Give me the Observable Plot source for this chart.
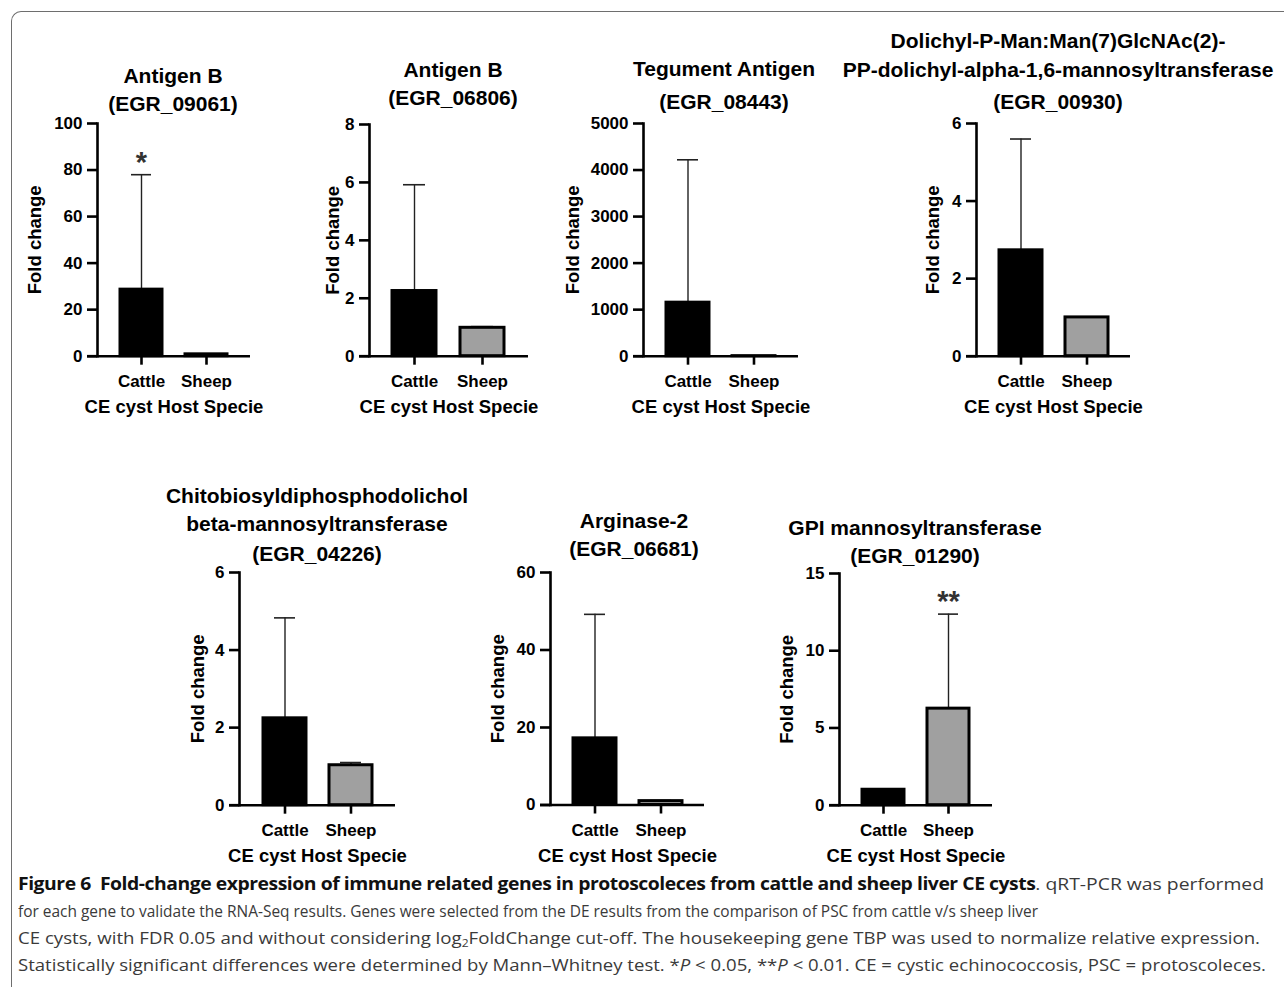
<!DOCTYPE html>
<html>
<head>
<meta charset="utf-8">
<script src="https://cdn.jsdelivr.net/npm/d3@7"></script>
<script src="https://cdn.jsdelivr.net/npm/@observablehq/plot@0.6"></script>
<style>
  html, body { margin: 0; padding: 0; background: #fff; }
  #wrap { position: relative; width: 1284px; height: 987px; overflow: hidden; background: #fff; }
  .border { position: absolute; left: 11px; top: 11px; width: 1400px; height: 1100px;
    border-left: 1.5px solid #6e6e6e; border-top: 1.5px solid #6e6e6e; border-top-left-radius: 10px; }
  .title { position: absolute; transform: translate(-50%, -50%); white-space: nowrap;
    font: bold 21px "Liberation Sans", Arial, Helvetica, sans-serif; color: #000; line-height: 1; }
  .cap { position: absolute; left: 18px; white-space: nowrap; transform-origin: 0 50%;
    font-family: "Open Sans", "Noto Sans", sans-serif;
    font-size: 17px; line-height: 27px; color: #3a3a3a; }
  .cap b { color: #111; font-weight: 700; letter-spacing: -0.4px; }
  .cap sub { font-size: 11px; line-height: 0; vertical-align: -3px; }
</style>
</head>
<body>
<div id="wrap"><div class="border"></div></div>
<script>
// ---------------- data ----------------
const hosts = ["Cattle", "Sheep"];
const titles = [
  ["Antigen B", "(EGR_09061)"],
  ["Antigen B", "(EGR_06806)"],
  ["Tegument Antigen", "(EGR_08443)"],
  ["Dolichyl-P-Man:Man(7)GlcNAc(2)-", "PP-dolichyl-alpha-1,6-mannosyltransferase", "(EGR_00930)"],
  ["Chitobiosyldiphosphodolichol", "beta-mannosyltransferase", "(EGR_04226)"],
  ["Arginase-2", "(EGR_06681)"],
  ["GPI mannosyltransferase", "(EGR_01290)"]
];
const cattleMean  = [28.6, 2.25, 1150, 2.73, 2.24, 17.2, 1.0];
const cattleUpper = [78.0, 5.92, 4220, 5.60, 4.83, 49.2, 1.0];
const sheepMean   = [0.8, 0.98, 1.0, 1.0, 1.03, 1.0, 6.25];
const sheepUpper  = [0.8, 1.02, 1.0, 1.0, 1.10, 1.15, 12.37];
const cattleSig   = ["*", "", "", "", "", "", ""];
const sheepSig    = ["", "", "", "", "", "", "**"];
const yMax   = [100, 8, 5000, 6, 6, 60, 15];
const yTicks = [
  [0, 20, 40, 60, 80, 100],
  [0, 2, 4, 6, 8],
  [0, 1000, 2000, 3000, 4000, 5000],
  [0, 2, 4, 6],
  [0, 2, 4, 6],
  [0, 20, 40, 60],
  [0, 5, 10, 15]
];
const yLabel = "Fold change";
const xLabel = "CE cyst Host Specie";

// ---------------- layout (pixels) ----------------
const layout = [
  {ax: 97,  xend: 250,  ytop: 123.3, y0: 356,   labelDx: -62, tx: 173,  ty: [75, 103]},
  {ax: 369, xend: 528,  ytop: 124.3, y0: 356,   labelDx: -36, tx: 453,  ty: [69, 97]},
  {ax: 643, xend: 798,  ytop: 123.3, y0: 356,   labelDx: -70, tx: 724,  ty: [68, 101]},
  {ax: 976, xend: 1130, ytop: 123.3, y0: 356,   labelDx: -43, tx: 1058, ty: [40, 69, 101]},
  {ax: 239, xend: 395,  ytop: 572.3, y0: 805,   labelDx: -41, tx: 317,  ty: [495, 523, 553]},
  {ax: 550, xend: 704,  ytop: 572,   y0: 804.5, labelDx: -52, tx: 634,  ty: [520, 548]},
  {ax: 839, xend: 992,  ytop: 573.3, y0: 805,   labelDx: -52, tx: 915,  ty: [527, 555]}
];

const wrap = document.getElementById("wrap");
const FONT = '"Liberation Sans", Arial, Helvetica, sans-serif';
const mL = 80, mR = 12, mT = 14, mB = 66;
const AXW = 2.6;

layout.forEach((L, i) => {
  const data = hosts.map((h, j) => ({
    host: h,
    mean: j === 0 ? cattleMean[i] : sheepMean[i],
    upper: j === 0 ? cattleUpper[i] : sheepUpper[i],
    sig: j === 0 ? cattleSig[i] : sheepSig[i]
  }));
  const err = data.filter(d => d.upper > d.mean);
  const svg = Plot.plot({
    width: mL + (L.xend - L.ax) + mR,
    height: mT + (L.y0 - L.ytop) + mB,
    marginLeft: mL, marginRight: mR, marginTop: mT, marginBottom: mB,
    style: {fontFamily: FONT, background: "transparent", overflow: "visible", color: "#000"},
    x: {domain: hosts, paddingInner: 0.35, paddingOuter: 0.34, align: 0.5, axis: null},
    y: {domain: [0, yMax[i]], axis: null},
    marks: [
      Plot.ruleX(err, {x: "host", y1: "mean", y2: "upper", stroke: "#222", strokeWidth: 1.4}),
      Plot.tickY(err, {x: "host", y: "upper", insetLeft: 11, insetRight: 11, stroke: "#222", strokeWidth: 1.6}),
      Plot.barY(data.filter(d => d.host === "Cattle"), {x: "host", y: "mean", fill: "#000", stroke: "#000", strokeWidth: 3}),
      Plot.barY(data.filter(d => d.host === "Sheep"), {x: "host", y: "mean", fill: "#a0a0a0", stroke: "#000", strokeWidth: 3}),
      Plot.text(data.filter(d => d.sig), {x: "host", y: "upper", text: "sig", dy: -12, fontSize: 29, fontWeight: "bold", fill: "#333"}),
      Plot.axisY({ticks: yTicks[i], tickFormat: "d", tickSize: 10, tickPadding: 5, strokeWidth: AXW,
        fontSize: 17, fontWeight: "bold", label: null}),
      Plot.axisX({tickSize: 9, tickPadding: 10, strokeWidth: AXW, fontSize: 17, fontWeight: "bold", label: null}),
      Plot.frame({anchor: "left", strokeWidth: AXW, stroke: "#000"}),
      Plot.ruleY([0], {insetLeft: -10, strokeWidth: AXW, stroke: "#000"}),
      Plot.text([yLabel], {frameAnchor: "left", textAnchor: "middle", lineAnchor: "middle", rotate: -90, dx: L.labelDx,
        fontSize: 18.5, fontWeight: "bold", fill: "#000"}),
      Plot.text([xLabel], {frameAnchor: "bottom", textAnchor: "middle", lineAnchor: "middle", dy: 51,
        fontSize: 18.5, fontWeight: "bold", fill: "#000"})
    ]
  });
  svg.style.position = "absolute";
  svg.style.left = (L.ax - mL) + "px";
  svg.style.top = (L.ytop - mT) + "px";
  svg.style.maxWidth = "none";
  wrap.appendChild(svg);
});

layout.forEach((L, i) => {
  titles[i].forEach((t, k) => {
    const d = document.createElement("div");
    d.className = "title";
    d.textContent = t;
    d.style.left = L.tx + "px";
    d.style.top = L.ty[k] + "px";
    wrap.appendChild(d);
  });
});

// ---------------- caption ----------------
const captionLines = [
  '<b>Figure 6&nbsp; Fold-change expression of immune related genes in protoscoleces from cattle and sheep liver CE cysts</b>. qRT-PCR was performed',
  'for each gene to validate the RNA-Seq results. Genes were selected from the DE results from the comparison of PSC from cattle v/s sheep liver',
  'CE cysts, with FDR 0.05 and without considering log<sub>2</sub>FoldChange cut-off. The housekeeping gene TBP was used to normalize relative expression.',
  'Statistically significant differences were determined by Mann–Whitney test. *<i>P</i> &lt; 0.05, **<i>P</i> &lt; 0.01. CE = cystic echinococcosis, PSC = protoscoleces.'
];
const capY = [883, 910, 937, 964];
const capW = [1246, 1020, 1242, 1248];
captionLines.forEach((html, k) => {
  const d = document.createElement("div");
  d.className = "cap";
  d.innerHTML = html;
  d.style.top = (capY[k] - 13.5) + "px";
  wrap.appendChild(d);
  const w = d.getBoundingClientRect().width;
  if (w > 0) d.style.transform = `scaleX(${capW[k] / w})`;
});
</script>
</body>
</html>
